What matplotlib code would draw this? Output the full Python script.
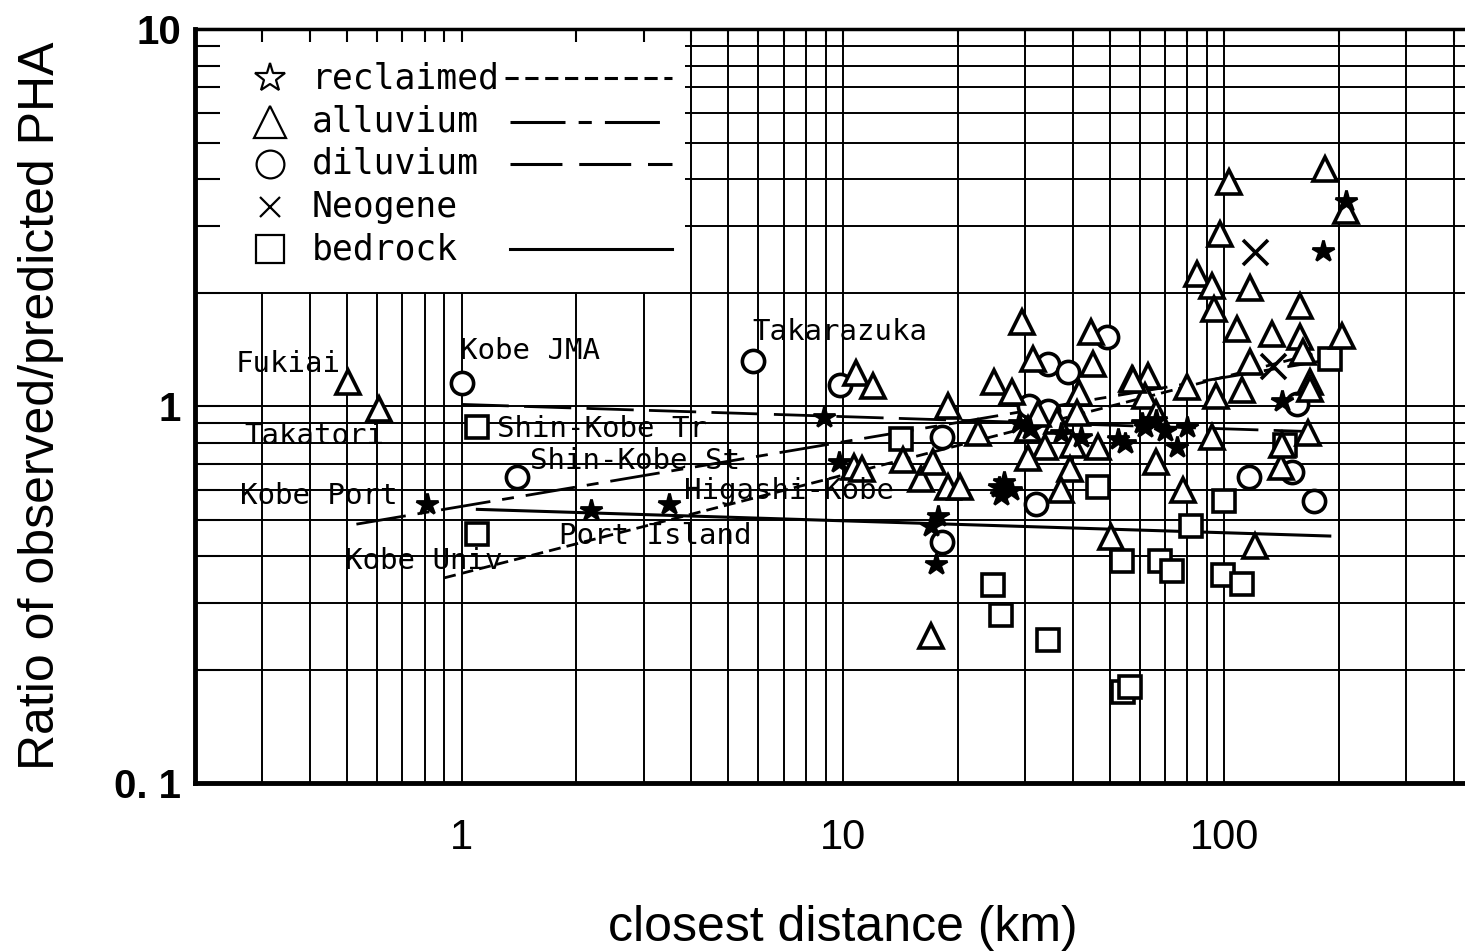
import numpy as np
import matplotlib.pyplot as plt
from matplotlib.patches import Rectangle

# ---- data (closest distance km, obs/pred PHA) ----
recl_x = [0.81, 2.19, 3.5, 8.9, 9.76, 17.0, 17.8, 17.5, 25.6, 25.9, 26.5, 27.5,
          29, 31, 37.2, 42, 52.5, 55, 61, 66, 62, 70, 75, 80, 142, 181, 208]
recl_y = [0.55, 0.53, 0.55, 0.935, 0.71, 0.48, 0.51, 0.38, 0.61, 0.58, 0.63, 0.60,
          0.90, 0.87, 0.85, 0.83, 0.82, 0.80, 0.90, 0.92, 0.88, 0.86, 0.78, 0.88,
          1.03, 2.58, 3.5]

allu_x = [0.503, 0.606, 10.8, 11.97, 10.7, 11.2, 14.4, 16.0, 17.2, 18.8, 20.3, 18.8,
          22.6, 17.0, 29.5, 44.6, 31.5, 45.3, 24.9, 27.8, 41.5, 41.2, 57.4, 62.9,
          62, 30.5, 36.4, 33.9, 40.2, 46.5, 30.5, 39.4, 37.2, 66, 50.4, 78, 66, 80,
          95, 111, 93, 103, 184, 208, 97.5, 85, 93, 94, 117, 158, 108, 133, 158,
          204, 117, 161, 168, 168, 120, 141, 142, 166, 57.7, 32.5]
allu_y = [1.16, 0.98, 1.22, 1.13, 0.69, 0.68, 0.72, 0.64, 0.71, 0.61, 0.61, 1.0,
          0.85, 0.245, 1.67, 1.57, 1.33, 1.29, 1.16, 1.09, 1.08, 0.96, 1.18, 1.2,
          1.06, 0.87, 0.91, 0.78, 0.79, 0.78, 0.73, 0.68, 0.6, 0.71, 0.45, 0.6, 0.96,
          1.12, 1.06, 1.1, 0.83, 3.93, 4.26, 3.29, 2.86, 2.24, 2.08, 1.81, 2.05, 1.84,
          1.6, 1.55, 1.52, 1.53, 1.31, 1.39, 1.16, 1.11, 0.425, 0.69, 0.79, 0.85,
          1.17, 0.95]

dilu_x = [1.0, 1.4, 5.8, 9.8, 18.2, 18.2, 30.7, 34.4, 34.4, 38.9, 49.3, 32, 155,
          116, 150, 172]
dilu_y = [1.15, 0.65, 1.32, 1.14, 0.83, 0.435, 1.0, 0.97, 1.29, 1.23, 1.52, 0.55,
          1.01, 0.65, 0.67, 0.56]

neog_x = [120, 134]
neog_y = [2.56, 1.28]

bed_x = [1.1, 1.1, 14.2, 24.8, 26, 34.4, 46.7, 54, 54.3, 56.6, 68, 73, 82, 99.6,
         99, 111, 144, 189]
bed_y = [0.88, 0.457, 0.82, 0.335, 0.279, 0.24, 0.61, 0.387, 0.174, 0.18, 0.387,
         0.365, 0.48, 0.56, 0.356, 0.337, 0.79, 1.33]

# regression lines (end points)
fit_recl_x, fit_recl_y = [0.9, 210], [0.35, 1.45]
fit_allu_x, fit_allu_y = [0.53, 208], [0.486, 1.35]
fit_dilu_x, fit_dilu_y = [1.0, 172], [1.01, 0.855]
fit_bed_x, fit_bed_y = [1.1, 189], [0.532, 0.452]

site_names = ['Fukiai', 'Kobe JMA', 'Takarazuka', 'Takatori', 'Shin-Kobe Tr',
              'Shin-Kobe St', 'Kobe Port', 'Higashi-Kobe', 'Port Island', 'Kobe Univ']
site_x = [0.255, 0.99, 5.8, 0.269, 1.235, 1.507, 0.262, 3.84, 1.805, 0.494]
site_y = [1.29, 1.40, 1.57, 0.832, 0.869, 0.714, 0.577, 0.595, 0.452, 0.388]

# line styles
ls_recl = (0, (4.3, 2.2))
ls_allu = (0, (18, 4.3, 4.3, 4.3))
ls_dilu = (0, (17, 5.5))
ls_bed = '-'

mono = 'DejaVu Sans Mono'
sans = 'Liberation Sans'

fig = plt.figure(figsize=(14.65, 9.52), dpi=100)
ax = fig.add_axes([0.1331, 0.1775, 0.8846, 0.7920])
ax.set_xscale('log')
ax.set_yscale('log')

# grid drawn by hand so the legend box can sit between grid and ticks
grid_x = [k * 10.0 ** e for e in range(-1, 3) for k in range(1, 10)]
grid_y = [k * 10.0 ** e for e in range(-1, 1) for k in range(1, 10)]
for gx in grid_x:
    if 0.2 <= gx <= 500:
        ax.axvline(gx, color='k', lw=1.4, zorder=1)
for gy in grid_y:
    if gy > 0.1:
        ax.axhline(gy, color='k', lw=1.4, zorder=1)

# fits
ax.plot(fit_recl_x, fit_recl_y, color='k', lw=2.0, ls=ls_recl, zorder=3)
ax.plot(fit_allu_x, fit_allu_y, color='k', lw=2.0, ls=ls_allu, zorder=3)
ax.plot(fit_dilu_x, fit_dilu_y, color='k', lw=2.0, ls=ls_dilu, zorder=3)
ax.plot(fit_bed_x, fit_bed_y, color='k', lw=2.2, ls=ls_bed, zorder=3)

# points
ax.plot(bed_x, bed_y, 's', ms=16, mfc='white', mec='k', mew=2.6, ls='none', zorder=4)
ax.plot(dilu_x, dilu_y, 'o', ms=16, mfc='white', mec='k', mew=2.6, ls='none', zorder=4)
ax.plot(allu_x, allu_y, '^', ms=17, mfc='white', mec='k', mew=2.6, ls='none', zorder=4)
ax.plot(recl_x, recl_y, '*', ms=16, mfc='k', mec='k', mew=2.0, ls='none', zorder=5)
ax.plot(neog_x, neog_y, 'x', ms=18, mec='k', mew=2.6, ls='none', zorder=5)

for name, sx, sy in zip(site_names, site_x, site_y):
    ax.text(sx, sy, name, fontsize=21, family=mono, va='center', ha='left', zorder=6)

# legend box
ax.add_patch(Rectangle((0, 0.651), 0.378, 0.349, transform=ax.transAxes,
                       facecolor='white', edgecolor='none', zorder=2))
leg_rows = [('*', 'reclaimed', ls_recl, 22, 0.239),
            ('^', 'alluvium', ls_allu, 23, 0.243),
            ('o', 'diluvium', ls_dilu, 20, 0.243),
            ('x', 'Neogene', None, 14, None),
            ('s', 'bedrock', ls_bed, 20, 0.243)]
leg_y = [0.935, 0.877, 0.821, 0.764, 0.708]
for (mk, lab, lst, msz, x0), yy in zip(leg_rows, leg_y):
    ax.plot([0.058], [yy], marker=mk, ms=msz, mfc='white', mec='k', mew=1.6,
            transform=ax.transAxes, zorder=6, clip_on=False)
    ax.text(0.090, yy, lab, transform=ax.transAxes, fontsize=25, family=mono,
            va='center', ha='left', zorder=6)
    if lst is not None:
        ax.plot([x0, 0.368], [yy, yy], color='k', lw=2.2, ls=lst,
                transform=ax.transAxes, zorder=6)

ax.set_xlim(0.2, 500)
ax.set_ylim(0.1, 10)

ax.set_xticks([1, 10, 100], labels=['1', '10', '100'], fontsize=30, family=sans)
ax.set_xticks([g for g in grid_x if 0.2 <= g <= 500], minor=True)
ax.set_yticks([0.1, 1, 10], labels=['0. 1', '1', '10'], fontsize=29,
              family=sans, fontweight='bold')
ax.set_yticks([g for g in grid_y if g > 0.1] + [20, 30, 40, 50, 60, 70, 80, 90],
              minor=True)
ax.set_ylim(0.1, 10)
ax.tick_params(axis='x', which='both', bottom=False, top=True, direction='in',
               length=9, width=1.5, pad=25)
ax.tick_params(axis='x', which='minor', labelbottom=False)
ax.tick_params(axis='y', which='both', left=True, right=False, direction='in',
               length=18, width=1.5, pad=10)
ax.tick_params(axis='y', which='minor', labelleft=False)
ax.set_axisbelow(False)

for side, w in [('left', 3.5), ('bottom', 3.5), ('top', 2.5)]:
    ax.spines[side].set_linewidth(w)
ax.spines['right'].set_visible(False)

ax.set_xlabel('closest distance (km)', fontsize=36, family=sans)
ax.xaxis.set_label_coords(0.5, -0.162)
ax.set_ylabel('Ratio of observed/predicted PHA', fontsize=36, family=sans)
ax.yaxis.set_label_coords(-0.101, 0.5)

fig.savefig('out.png', dpi=100)
